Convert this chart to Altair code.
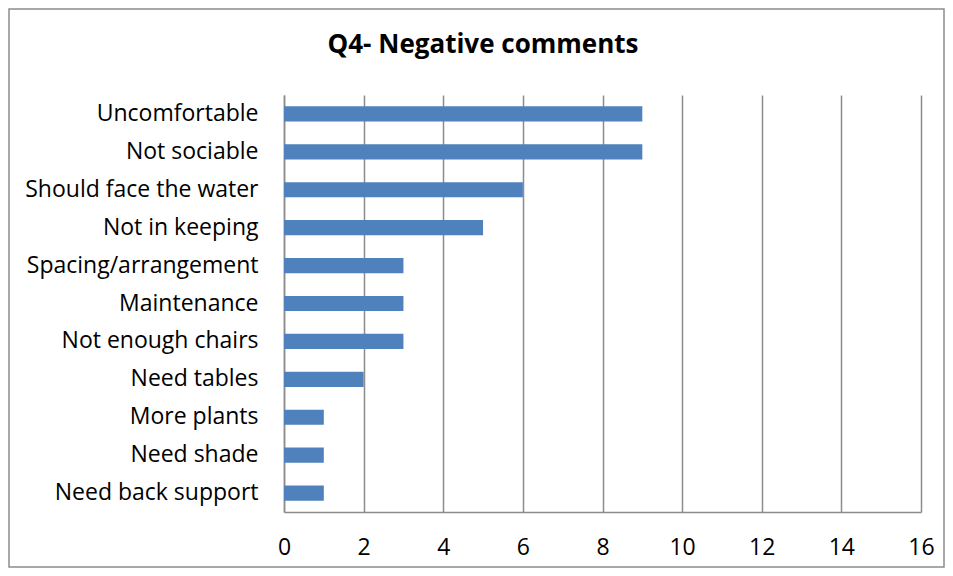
import altair as alt
import pandas as pd

categories = ["Uncomfortable", "Not sociable", "Should face the water", "Not in keeping",
              "Spacing/arrangement", "Maintenance", "Not enough chairs", "Need tables",
              "More plants", "Need shade", "Need back support"]
values = [9, 9, 6, 5, 3, 3, 3, 2, 1, 1, 1]
x_ticks = [0, 2, 4, 6, 8, 10, 12, 14, 16]
title_text = "Q4- Negative comments"

df = pd.DataFrame({"category": categories, "value": values})

W, H = 637, 417
FONT = "Open Sans"

bars = alt.Chart(df).mark_bar(color="#4F81BD").encode(
    x=alt.X("value:Q", scale=alt.Scale(domain=[0, 16], nice=False),
            axis=alt.Axis(values=x_ticks, title=None, grid=True, gridColor="#8c8c8c",
                          gridWidth=1.5, domainColor="#8c8c8c", domainWidth=1.5,
                          ticks=False, labelFont=FONT, labelFontSize=23,
                          labelColor="#000000", labelPadding=24, labelFlush=False)),
    y=alt.Y("category:N", sort=categories,
            scale=alt.Scale(paddingInner=0.6, paddingOuter=0.3),
            axis=alt.Axis(title=None, ticks=False, domainColor="#8c8c8c", domainWidth=1.5,
                          labelFont=FONT, labelFontSize=23, labelColor="#000000",
                          labelPadding=26, labelLimit=400)),
)

title = alt.Chart(pd.DataFrame({"t": [title_text]})).mark_text(
    font=FONT, fontSize=26, fontWeight="bold", color="#000000", baseline="middle", align="center"
).encode(text="t:N", x=alt.value(199), y=alt.value(-50))

border = alt.Chart(pd.DataFrame({"a": [0]})).mark_rect(
    fill=None, stroke="#8c8c8c", strokeWidth=1.5, clip=False
).encode(x=alt.value(-275), x2=alt.value(W + 23), y=alt.value(-86), y2=alt.value(H + 55))

chart = alt.layer(border, bars, title).properties(
    width=W, height=H,
    autosize=alt.AutoSizeParams(type="none"),
    padding={"left": 276, "top": 87, "right": 24, "bottom": 56},
).configure_view(stroke=None)

chart.save("out.html", embed_options={"renderer": "svg", "actions": False})
